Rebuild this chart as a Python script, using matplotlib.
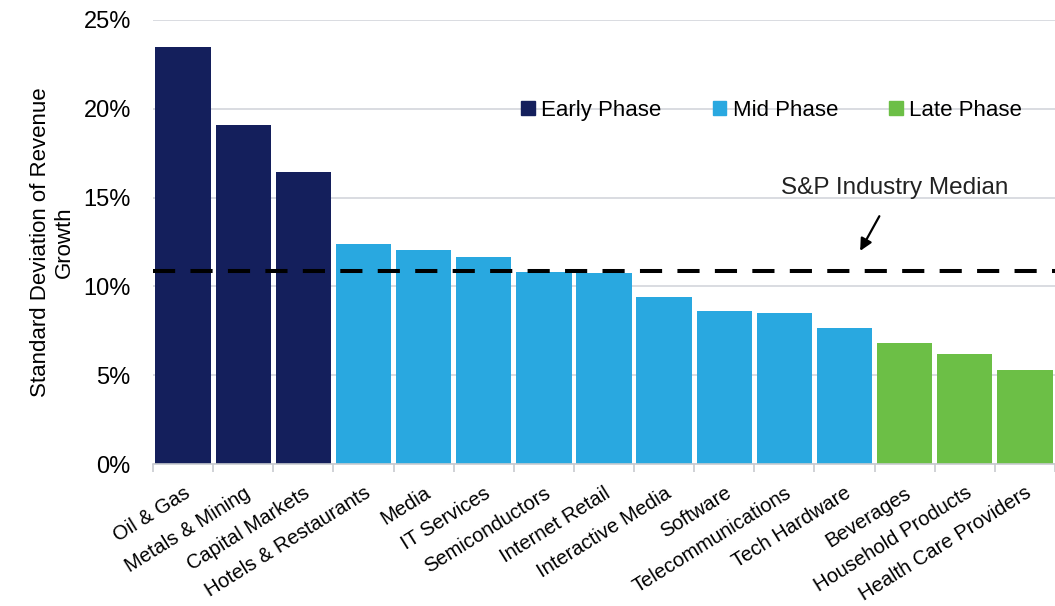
import matplotlib
matplotlib.use("Agg")
import matplotlib.pyplot as plt
from matplotlib.patches import Patch
from matplotlib.ticker import FuncFormatter

plt.rcParams['font.family'] = ['Liberation Sans', 'DejaVu Sans']

industrias = ["Oil & Gas", "Metals & Mining", "Capital Markets", "Hotels & Restaurants",
              "Media", "IT Services", "Semiconductors", "Internet Retail",
              "Interactive Media", "Software", "Telecommunications", "Tech Hardware",
              "Beverages", "Household Products", "Health Care Providers"]
desvio = [23.5, 19.1, 16.45, 12.4, 12.05, 11.65, 10.8, 10.75,
          9.4, 8.6, 8.5, 7.65, 6.8, 6.2, 5.3]
fases = ["Early"] * 3 + ["Mid"] * 9 + ["Late"] * 3
mediana = 10.85

cores = {"Early": "#141f5c", "Mid": "#29a8e0", "Late": "#6cbf46"}

fig = plt.figure(figsize=(10.55, 6.06), dpi=100)
ax = fig.add_axes([0.145, 0.2343, 0.855, 0.7327])

x = list(range(len(industrias)))
ax.bar(x, desvio, width=0.92, color=[cores[f] for f in fases], zorder=2)

# linha da mediana
ax.plot([-0.5, len(industrias) - 0.5], [mediana, mediana], color="black",
        lw=2.9, dashes=[5.5, 3.8], zorder=3)

ax.set_xlim(-0.5, len(industrias) - 0.5)
ax.set_ylim(0, 25)
ax.set_yticks([0, 5, 10, 15, 20, 25])
ax.yaxis.set_major_formatter(FuncFormatter(lambda v, p: f"{v:.0f}%"))
ax.grid(axis="y", color="#d3d6db", lw=1.2, zorder=0)
ax.tick_params(axis="y", length=0, labelsize=17, pad=16)

# ticks nas divisoes das categorias
ax.set_xticks([i - 0.5 for i in range(len(industrias) + 1)], minor=True)
ax.set_xticks(x)
ax.set_xticklabels(industrias, rotation=32, ha="right", rotation_mode="anchor", fontsize=14.5)
ax.tick_params(axis="x", which="major", length=0, pad=14)
ax.tick_params(axis="x", which="minor", length=6, color="#c8cbd0", width=1.2)

for lado in ["top", "right", "left"]:
    ax.spines[lado].set_visible(False)
ax.spines["bottom"].set_color("#c8cbd0")
ax.spines["bottom"].set_linewidth(1.2)

ax.set_ylabel("Standard Deviation of Revenue\nGrowth", fontsize=16, labelpad=6)

handles = [Patch(color=cores[k]) for k in ["Early", "Mid", "Late"]]
ax.legend(handles, ["Early Phase", "Mid Phase", "Late Phase"], ncol=3, frameon=False,
          fontsize=16, loc="center", bbox_to_anchor=(0.686, 0.797),
          handlelength=0.6, handleheight=0.6, handletextpad=0.3, columnspacing=2.3)

ax.annotate("S&P Industry Median", xy=(11.26, 12.0), xytext=(11.84, 15.55),
            fontsize=17.5, color="#222222", ha="center", va="center",
            arrowprops=dict(arrowstyle="-|>", color="black", lw=1.6, mutation_scale=18,
                            shrinkA=12, shrinkB=0))

fig.savefig("out.png", dpi=100)
